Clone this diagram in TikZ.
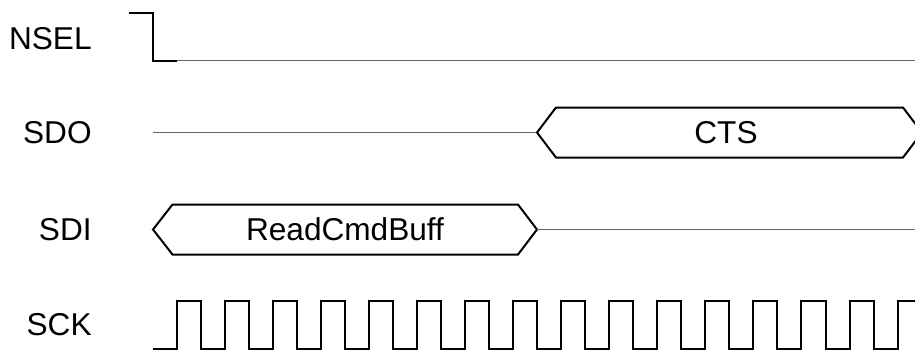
\documentclass[tikz,border=0pt]{standalone}
\usepackage{fontspec}
\setmainfont{Liberation Sans}
\begin{document}
\begin{tikzpicture}[x=0.5pt,y=-0.5pt,line join=miter,
  every node/.style={font=\fontsize{15.8}{18}\selectfont,inner sep=0pt},
  wave/.style={line width=1pt},
  idle/.style={black!60,line width=0.5pt}]
\useasboundingbox (0,0) rectangle (915,350);
\clip (0,0) rectangle (915,350);
% signal names
\node[anchor=east] (nsel) at (92,38.5){NSEL};
\node[anchor=east] (sdo) at (92,132.5){SDO};
\node[anchor=east] (sdi) at (92,229.5){SDI};
\node[anchor=east] (sck) at (92,325){SCK};
% NSEL
\draw[wave] (129,13)--(153,13)--(153,60.5)--(177,60.5);
\draw[idle] (177,60.5)--(915,60.5);
% SDO
\draw[idle] (153,132.5)--(537,132.5);
\draw[wave] (537,132.5)--(556,107.5)--(903,107.5)--(922,132.5)--(903,157.5)--(556,157.5)--cycle;
\node (cts) at (726,132.5){CTS};
% SDI
\draw[wave] (153,229.5)--(172.5,204.5)--(518,204.5)--(537,229.5)--(518,254.5)--(172.5,254.5)--cycle;
\node (rcb) at (345,229.5){ReadCmdBuff};
\draw[idle] (537,229.5)--(915,229.5);
% SCK
\draw[wave] (153,349)--(176.7,349)
  \foreach \k in {1,...,16}{--++(0,-48)--++(24.03,0)--++(0,48)--++(24.03,0)};
\end{tikzpicture}
\end{document}
